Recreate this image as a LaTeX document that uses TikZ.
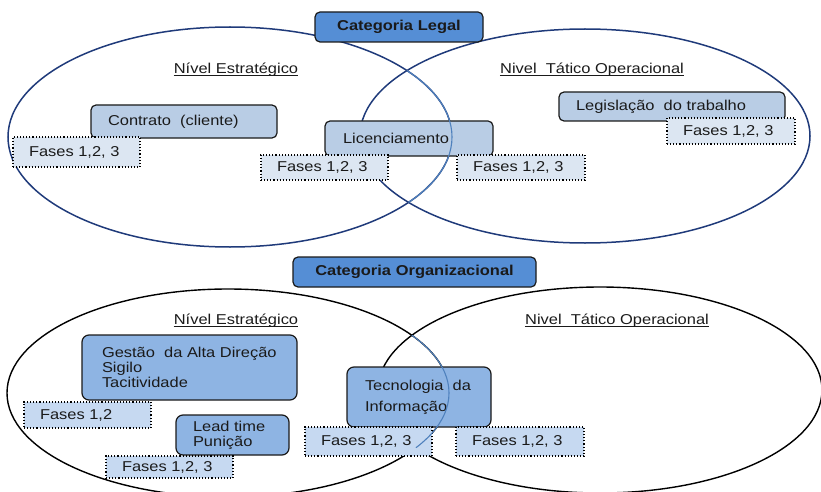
\documentclass[tikz,border=0pt]{standalone}
\usepackage{fontspec}
\setmainfont{Liberation Sans}[FakeStretch=1.15]
\definecolor{navy}{HTML}{1F3A7A}
\definecolor{arcblue}{HTML}{4F81BD}
\definecolor{boxline}{HTML}{1A1A1A}
\definecolor{titlefill}{HTML}{558ED5}
\definecolor{topfill}{HTML}{B9CDE5}
\definecolor{topphasefill}{HTML}{DCE6F2}
\definecolor{botfill}{HTML}{8EB4E3}
\definecolor{botphasefill}{HTML}{C6D9F1}
\definecolor{ink}{HTML}{1A1A1A}
\hyphenpenalty=10000\relax

% \nbox[pad]{name}{style}{x1}{y1}{x2}{y2}{text}: a node filling the given box
\newcommand\nbox[8][16]{%
  \pgfmathsetmacro\bw{#6-#4}\pgfmathsetmacro\bh{#7-#5}%
  \pgfmathsetmacro\bx{(#4+#6)/2}\pgfmathsetmacro\by{(#5+#7)/2}%
  \pgfmathsetmacro\btw{#6-#4-2*#1}%
  \node[#3, inner xsep=#1pt, inner ysep=0pt, minimum width=\bw pt,
        minimum height=\bh pt, text width=\btw pt] (#2) at (\bx,\by) {#8};}
% \ulabel{name}{x}{y}{text}: underlined heading
\newcommand\ulabel[4]{%
  \node[level] (#1) at (#2,#3) {#4};
  \draw[ink, line width=0.8pt] ([yshift=-2pt]#1.base west) -- ([yshift=-2pt]#1.base east);}

\begin{document}
\begin{tikzpicture}[x=1pt,y=-1pt,
  txt/.style={font=\fontsize{14.3}{15}\selectfont, text=ink},
  title/.style={txt, font=\fontsize{14.3}{15}\selectfont\bfseries, draw=boxline,
    fill=titlefill, rounded corners=5pt, line width=1.2pt, align=center,
    inner sep=0pt},
  topitem/.style={txt, draw=boxline, fill=topfill, rounded corners=5pt,
    line width=1.2pt, align=flush left},
  botitem/.style={txt, draw=boxline, fill=botfill, rounded corners=7pt,
    line width=1.2pt, align=flush left},
  topphase/.style={txt, draw=black, dotted, line width=1.1pt,
    fill=topphasefill, align=flush left},
  botphase/.style={txt, draw=black, dotted, line width=1.1pt,
    fill=botphasefill, align=flush left},
  level/.style={txt, inner sep=0pt},
  topring/.style={draw=navy, line width=1.5pt},
  botring/.style={draw=black, line width=1.4pt},
  overlap/.style={draw=arcblue, line width=1.1pt}
]
\useasboundingbox (0,0) rectangle (821,492);

% ---------- Categoria Legal ----------
\draw[topring] (230,137) ellipse [x radius=222pt, y radius=110pt];
\draw[topring] (585,136) ellipse [x radius=225pt, y radius=107pt];

\nbox{legal}{title}{315}{12}{483}{42}{Categoria Legal}
\ulabel{estrA}{236}{70}{Nível Estratégico}
\ulabel{taticoA}{592}{70}{Nivel~~Tático Operacional}

\nbox[17]{contrato}{topitem}{91}{105}{277}{138}{Contrato~~(cliente)}
\nbox{fA1}{topphase}{13}{137}{140}{167}{Fases 1,2, 3}
\nbox[18]{licenc}{topitem}{325}{121}{493}{156}{Licenciamento}
\nbox{fA2}{topphase}{261}{155}{388}{180}{Fases 1,2, 3}
\nbox{fA3}{topphase}{457}{155}{585}{180}{Fases 1,2, 3}
\nbox[17]{legis}{topitem}{559}{92}{785}{121}{Legislação~~do trabalho}
\nbox{fA4}{topphase}{667}{118}{795}{144}{Fases 1,2, 3}

% strategic ring seen through the tactical one
\begin{scope}
  \clip (585,136) ellipse [x radius=225pt, y radius=107pt];
  \draw[overlap] (230,137) ellipse [x radius=222pt, y radius=110pt];
\end{scope}

% ---------- Categoria Organizacional ----------
\draw[botring] (228,393) ellipse [x radius=221pt, y radius=104pt];
\draw[botring] (600,390) ellipse [x radius=222pt, y radius=103pt];

\nbox{org}{title}{293}{257}{536}{287}{Categoria Organizacional}
\ulabel{estrB}{236}{321}{Nível Estratégico}
\ulabel{taticoB}{617}{321}{Nivel~~Tático Operacional}

\nbox[18]{gestao}{botitem}{82}{335}{297}{400}{\hspace*{2pt}Gestão~~da Alta Direção\\\hspace*{2pt}Sigilo\\\hspace*{2pt}Tacitividade}
\nbox{fB1}{botphase}{24}{402}{151}{428}{Fases 1,2}
\nbox[17]{lead}{botitem}{176}{415}{289}{455}{Lead time\\Punição}
\nbox{fB2}{botphase}{106}{456}{233}{478}{Fases 1,2, 3}
\nbox[18]{tecno}{botitem}{347}{367}{491}{427}{Tecnologia~~da\\[6pt]Informação}
\nbox{fB3}{botphase}{305}{427}{432}{456}{Fases 1,2, 3}
\nbox{fB4}{botphase}{456}{427}{584}{456}{Fases 1,2, 3}

\begin{scope}
  \clip (600,390) ellipse [x radius=222pt, y radius=103pt];
  \draw[overlap] (228,393) ellipse [x radius=221pt, y radius=104pt];
\end{scope}
\end{tikzpicture}
\end{document}
